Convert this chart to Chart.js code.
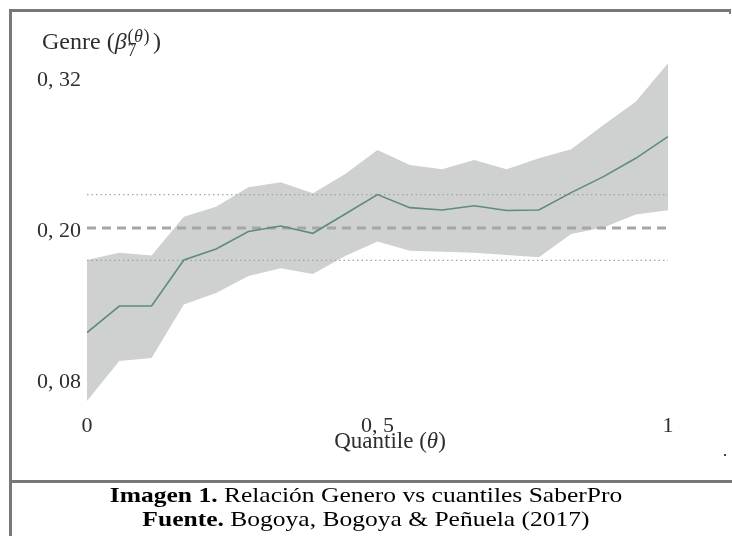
<!DOCTYPE html>
<html>
<head>
<meta charset="utf-8">
<script src="https://cdn.jsdelivr.net/npm/chart.js@4"></script>
<style>
  body { margin: 0; background: #fff; width: 732px; height: 536px; overflow: hidden; position: relative; }
  #wrap { position: absolute; left: 0; top: 0; width: 732px; height: 470px; }
  .rule { position: absolute; background: #787878; }
  .serif { font-family: 'Liberation Serif', 'DejaVu Serif', serif; color: #2e2e2e; position: absolute; white-space: nowrap; }
  #ytitle { left: 42px; top: 29px; font-size: 24px; line-height: 24px; }
  #ytitle .paren { margin-left: 6px; }
  .ss { display: inline-block; vertical-align: -7px; font-size: 18px; line-height: 14px; margin-left: 1px; margin-right: 3px; }
  .ss span { display: block; }
  .ss .sup { letter-spacing: 0.5px; }
  #xtitle { left: 240px; width: 300px; text-align: center; top: 429px; font-size: 23px; line-height: 24px; }
  .cap { left: 0; width: 732px; text-align: center; font-family: 'Liberation Serif', serif; color: #000;
         font-size: 22px; line-height: 24px; transform: scaleX(1.16); transform-origin: 366px 0; }
</style>
</head>
<body>
<div id="wrap"><canvas id="chart" width="732" height="470"></canvas></div>

<div class="rule" style="left:9px; top:9px; width:722px; height:3px;"></div>
<div class="rule" style="left:729px; top:9px; width:2px; height:5px;"></div>
<div class="rule" style="left:9px; top:9px; width:3px; height:527px;"></div>
<div class="rule" style="left:9px; top:480px; width:723px; height:3px;"></div>
<div class="rule" style="left:724px; top:454px; width:2px; height:2px; background:#444;"></div>

<div id="ytitle" class="serif">Genre<span class="paren">(</span><i>β</i><span class="ss"><span class="sup">(<i>θ</i>)</span><span>7</span></span>)</div>
<div id="xtitle" class="serif">Quantile (<i>θ</i>)</div>

<div class="serif cap" style="top:483px;"><b>Imagen 1.</b> Relación Genero vs cuantiles SaberPro</div>
<div class="serif cap" style="top:507px;"><b>Fuente.</b> Bogoya, Bogoya &amp; Peñuela (2017)</div>

<script>
// quantiles theta (19 points between 0 and 1)
const quantiles = [0, 0.0556, 0.1111, 0.1667, 0.2222, 0.2778, 0.3333, 0.3889, 0.4444, 0.5,
                   0.5556, 0.6111, 0.6667, 0.7222, 0.7778, 0.8333, 0.8889, 0.9444, 1];

// quantile regression estimate of the genre coefficient
const estimate = [0.1198, 0.1409, 0.1409, 0.1775, 0.1862, 0.2001, 0.2045, 0.1987, 0.2140, 0.2295,
                  0.2191, 0.2172, 0.2206, 0.2168, 0.2172, 0.2310, 0.2437, 0.2583, 0.2755];

// confidence band
const upper = [0.1775, 0.1833, 0.1811, 0.2119, 0.2198, 0.2353, 0.2392, 0.2305, 0.2458, 0.2649,
               0.2530, 0.2496, 0.2570, 0.2496, 0.2583, 0.2655, 0.2848, 0.3033, 0.3338];
const lower = [0.0654, 0.0972, 0.0996, 0.1421, 0.1512, 0.1648, 0.1709, 0.1664, 0.1807, 0.1922,
               0.1849, 0.1841, 0.1833, 0.1815, 0.1796, 0.1981, 0.2033, 0.2136, 0.2170];

// OLS estimate and its interval (horizontal reference lines)
const olsX = [0, 1];
const olsEstimate = [0.2029, 0.2029];
const olsUpper = [0.2295, 0.2295];
const olsLower = [0.1771, 0.1771];

const xTickValues = [0, 0.5, 1];
const xTickLabels = ['0', '0, 5', '1'];
const yTickValues = [0.08, 0.20, 0.32];
const yTickLabels = ['0, 08', '0, 20', '0, 32'];

const pts = (xs, ys) => xs.map((x, i) => ({ x: x, y: ys[i] }));

const serif = "'Liberation Serif', 'DejaVu Serif', serif";

new Chart(document.getElementById('chart'), {
    type: 'line',
    data: {
        datasets: [
            {
                data: pts(quantiles, estimate),
                borderColor: '#5e8b80',
                borderWidth: 1.6,
                pointRadius: 0,
                fill: false
            },
            {
                data: pts(olsX, olsEstimate),
                borderColor: '#a6a6a6',
                borderWidth: 3,
                borderDash: [9, 6],
                pointRadius: 0,
                fill: false
            },
            {
                data: pts(olsX, olsUpper),
                borderColor: '#a3a3a3',
                borderWidth: 1.2,
                borderDash: [1.5, 3],
                pointRadius: 0,
                fill: false
            },
            {
                data: pts(olsX, olsLower),
                borderColor: '#a3a3a3',
                borderWidth: 1.2,
                borderDash: [1.5, 3],
                pointRadius: 0,
                fill: false
            },
            {
                data: pts(quantiles, upper),
                borderWidth: 0,
                borderColor: 'rgba(0,0,0,0)',
                backgroundColor: '#cfd0d0',
                pointRadius: 0,
                fill: '+1'
            },
            {
                data: pts(quantiles, lower),
                borderWidth: 0,
                borderColor: 'rgba(0,0,0,0)',
                pointRadius: 0,
                fill: false
            }
        ]
    },
    options: {
        responsive: false,
        animation: false,
        devicePixelRatio: 1,
        layout: { padding: { top: 55.5, right: 64, bottom: 0, left: 0 } },
        plugins: {
            legend: { display: false },
            tooltip: { enabled: false }
        },
        scales: {
            x: {
                type: 'linear',
                min: 0,
                max: 1,
                grid: { display: false, drawTicks: false },
                border: { display: false },
                afterBuildTicks: s => { s.ticks = xTickValues.map(v => ({ value: v })); },
                afterFit: s => { s.height = 62.2; },
                ticks: {
                    padding: 5,
                    maxRotation: 0,
                    autoSkip: false,
                    color: '#2e2e2e',
                    font: { family: serif, size: 22 },
                    callback: (v, i) => xTickLabels[i]
                }
            },
            y: {
                min: 0.06,
                max: 0.34,
                grid: { display: false, drawTicks: false },
                border: { display: false },
                afterBuildTicks: s => { s.ticks = yTickValues.map(v => ({ value: v })); },
                afterFit: s => { s.width = 87; },
                ticks: {
                    padding: 6,
                    color: '#2e2e2e',
                    font: { family: serif, size: 22 },
                    callback: (v, i) => yTickLabels[i]
                }
            }
        }
    }
});
</script>
</body>
</html>
